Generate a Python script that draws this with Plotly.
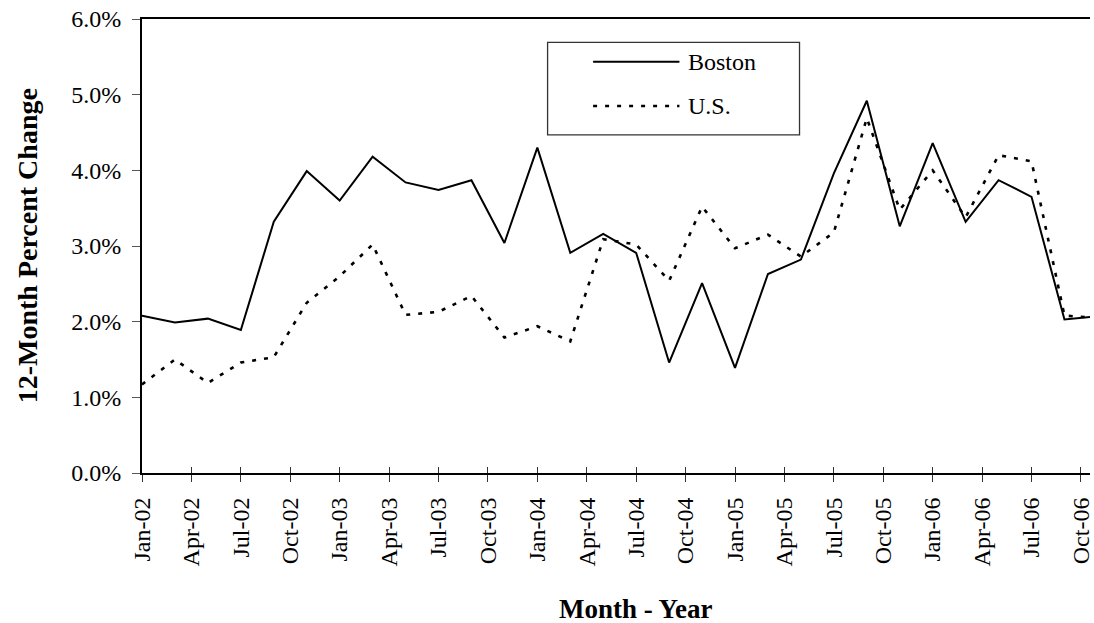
import pandas as pd
import plotly.graph_objects as go

# ---- data (bimonthly observations) ----
months = ["Jan-02", "Mar-02", "May-02", "Jul-02", "Sep-02", "Nov-02",
          "Jan-03", "Mar-03", "May-03", "Jul-03", "Sep-03", "Nov-03",
          "Jan-04", "Mar-04", "May-04", "Jul-04", "Sep-04", "Nov-04",
          "Jan-05", "Mar-05", "May-05", "Jul-05", "Sep-05", "Nov-05",
          "Jan-06", "Mar-06", "May-06", "Jul-06", "Sep-06", "Nov-06"]

boston = [2.08, 1.99, 2.04, 1.89, 3.32, 3.99,
          3.60, 4.18, 3.84, 3.74, 3.87, 3.04,
          4.30, 2.91, 3.16, 2.91, 1.46, 2.51,
          1.39, 2.63, 2.82, 3.96, 4.92, 3.26,
          4.36, 3.32, 3.87, 3.65, 2.03, 2.07]

us = [1.17, 1.50, 1.19, 1.46, 1.53, 2.25,
      2.60, 3.02, 2.09, 2.13, 2.34, 1.79,
      1.94, 1.74, 3.09, 3.02, 2.54, 3.52,
      2.97, 3.15, 2.86, 3.18, 4.69, 3.48,
      4.00, 3.38, 4.20, 4.12, 2.08, 2.05]

tick_labels = ["Jan-02", "Apr-02", "Jul-02", "Oct-02",
               "Jan-03", "Apr-03", "Jul-03", "Oct-03",
               "Jan-04", "Apr-04", "Jul-04", "Oct-04",
               "Jan-05", "Apr-05", "Jul-05", "Oct-05",
               "Jan-06", "Apr-06", "Jul-06", "Oct-06"]

series_names = ["Boston", "U.S."]
y_ticks = [0, 1, 2, 3, 4, 5, 6]
y_tick_labels = ["0.0%", "1.0%", "2.0%", "3.0%", "4.0%", "5.0%", "6.0%"]


def month_index(labels):
    d = pd.to_datetime(labels, format="%b-%y")
    return [(t.year - 2002) * 12 + t.month - 1 for t in d]


x = month_index(months)
tickvals = month_index(tick_labels)

FONT = "Liberation Serif, Times New Roman, serif"

fig = go.Figure()
fig.add_trace(go.Scatter(x=x, y=boston, mode="lines", name=series_names[0],
                         line=dict(color="black", width=2)))
fig.add_trace(go.Scatter(x=x, y=us, mode="lines", name=series_names[1],
                         line=dict(color="black", width=2.6, dash="4px,8px")))
# empty trace to carry the overlay axis for inner tick marks
fig.add_trace(go.Scatter(x=[], y=[], xaxis="x2", showlegend=False, hoverinfo="skip"))

xr = [0, 57.55]
fig.update_layout(
    width=1094, height=623,
    paper_bgcolor="white", plot_bgcolor="white",
    margin=dict(l=142, r=0, t=19, b=150),
    showlegend=False,
    font=dict(family=FONT, color="black", size=24),
    xaxis=dict(range=xr, tickmode="array", tickvals=tickvals, ticktext=tick_labels,
               tickangle=-90, ticks="outside", ticklen=7, tickwidth=1.3, tickcolor="#333",
               showline=True, linecolor="black", linewidth=2, mirror=True,
               showgrid=False, zeroline=False, ticklabelstandoff=6,
               ticklabeloverflow="allow",
               tickfont=dict(size=24, family=FONT)),
    xaxis2=dict(range=xr, overlaying="x", matches="x", anchor="y", side="bottom",
                tickmode="array", tickvals=tickvals, ticks="inside", ticklen=6,
                tickwidth=1.3, tickcolor="#333", showticklabels=False,
                showline=False, showgrid=False, zeroline=False),
    yaxis=dict(range=[0, 6], tickmode="array", tickvals=y_ticks, ticktext=y_tick_labels,
               ticks="outside", ticklen=8,
               tickwidth=1.3, tickcolor="#555",
               showline=True, linecolor="black", linewidth=2,
               showgrid=False, zeroline=False, ticklabelstandoff=6,
               tickfont=dict(size=24, family=FONT)),
)


def px_x(p):
    return (p - 142) / 952.0


def px_y(p):
    return (473.3 - p) / 454.3


# axis titles
fig.add_annotation(text="<b>12-Month Percent Change</b>", xref="paper", yref="paper",
                   x=px_x(27), y=px_y(246), textangle=-90, showarrow=False,
                   font=dict(size=28, family=FONT), xanchor="center", yanchor="middle")
fig.add_annotation(text="<b>Month - Year</b>", xref="paper", yref="paper",
                   x=px_x(638), y=px_y(609), showarrow=False,
                   font=dict(size=27, family=FONT), xanchor="center", yanchor="middle")

# legend box
fig.add_shape(type="rect", xref="paper", yref="paper",
              x0=px_x(549.3), x1=px_x(802.3), y0=px_y(135), y1=px_y(42.3),
              line=dict(color="#333", width=1.3), fillcolor="white", layer="above")
legend_rows = [(61.7, dict(color="black", width=2)),
               (106.0, dict(color="black", width=2.6, dash="4px,8px"))]
for name, (yy, ln) in zip(series_names, legend_rows):
    fig.add_shape(type="line", xref="paper", yref="paper",
                  x0=px_x(595), x1=px_x(681.7), y0=px_y(yy), y1=px_y(yy),
                  line=ln, layer="above")
    fig.add_annotation(text=name, xref="paper", yref="paper",
                       x=px_x(688), y=px_y(yy), xanchor="left", yanchor="middle",
                       showarrow=False, font=dict(size=24, family=FONT))

fig.write_html("out.html", config={"displayModeBar": False},
               post_script="document.body.style.margin='0';document.body.style.overflow='hidden';")
